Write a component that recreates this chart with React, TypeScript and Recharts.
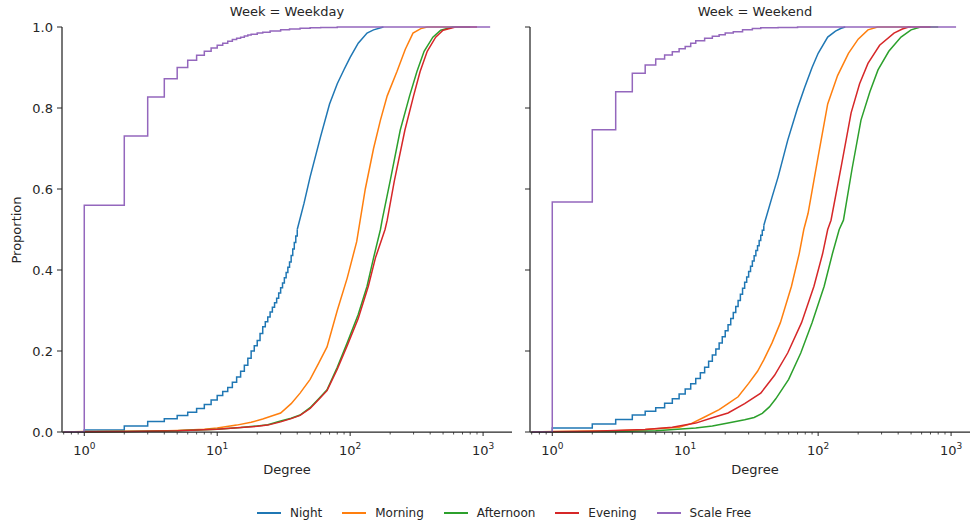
import { LineChart, Line, XAxis, YAxis } from "recharts";

type Pt = [number, number];

// ECDF readings: [degree, proportion]
// Weekday panel
const wdNightSteps: Pt[] = [
  [0.7, 0], [1, 0.005], [2, 0.015], [3, 0.026], [4, 0.033], [5, 0.041], [6, 0.049],
  [7, 0.058], [8, 0.068], [9, 0.079], [10, 0.09], [11, 0.1], [12, 0.11], [13, 0.123],
  [14, 0.136], [15, 0.15], [16, 0.165], [17, 0.182], [18, 0.2], [19, 0.213], [20, 0.226],
  [21, 0.243], [22, 0.26], [23, 0.272], [24, 0.284], [25, 0.296], [26, 0.308],
  [27, 0.319], [28, 0.33], [29, 0.343], [30, 0.356], [31, 0.368], [32, 0.381],
  [33, 0.394], [34, 0.407], [35, 0.42], [36, 0.436], [37, 0.452], [38, 0.468],
  [39, 0.484], [40, 0.5],
];
const wdNightTail: Pt[] = [
  [40, 0.5], [45, 0.565], [50, 0.63], [60, 0.73], [70, 0.81],
  [80, 0.86], [90, 0.895], [100, 0.925], [115, 0.96], [134, 0.985], [150, 0.993], [178, 1],
];
const wdMorning: Pt[] = [
  [0.7, 0], [1, 0.001], [3, 0.002], [5, 0.004], [8, 0.007], [10, 0.01], [14, 0.017],
  [18, 0.024], [22, 0.032], [26, 0.04], [30, 0.047], [36, 0.07], [42, 0.096], [50, 0.13],
  [58, 0.17], [67, 0.21], [80, 0.3], [95, 0.38], [112, 0.47], [119, 0.523], [130, 0.6],
  [150, 0.7], [169, 0.77], [190, 0.83], [225, 0.89], [260, 0.945], [297, 0.985],
  [340, 0.996], [380, 1], [600, 1],
];
const wdAfternoon: Pt[] = [
  [0.7, 0], [2, 0.001], [5, 0.003], [10, 0.007], [15, 0.011], [20, 0.015], [24, 0.018],
  [30, 0.027], [36, 0.034], [42, 0.042], [50, 0.06], [58, 0.082], [67, 0.104], [80, 0.16],
  [95, 0.22], [115, 0.29], [134, 0.36], [150, 0.43], [169, 0.5], [174, 0.523], [200, 0.62],
  [238, 0.745], [280, 0.83], [318, 0.89], [360, 0.94], [419, 0.975], [480, 0.992],
  [592, 1], [800, 1],
];
const wdEvening: Pt[] = [
  [0.7, 0], [2, 0.001], [5, 0.003], [10, 0.007], [15, 0.011], [20, 0.014], [24, 0.017],
  [30, 0.025], [36, 0.033], [42, 0.041], [50, 0.058], [58, 0.08], [67, 0.102], [80, 0.155],
  [95, 0.213], [115, 0.28], [137, 0.36], [155, 0.43], [183, 0.5], [190, 0.523], [215, 0.62],
  [258, 0.745], [300, 0.83], [336, 0.89], [380, 0.94], [440, 0.975], [500, 0.992],
  [620, 1], [900, 1],
];
const wdScaleFree: Pt[] = [
  [0.7, 0], [1, 0.56], [2, 0.731], [3, 0.827], [4, 0.872], [5, 0.9], [6, 0.918], [7, 0.93],
  [8, 0.94], [9, 0.948], [10, 0.955], [11, 0.96], [12, 0.965], [13, 0.969], [14, 0.972],
  [15, 0.975], [16, 0.978], [17, 0.98], [18, 0.982], [20, 0.985], [22, 0.987], [25, 0.99],
  [30, 0.993], [35, 0.995], [42, 0.997], [50, 0.998], [60, 0.999], [80, 1], [1130, 1],
];

// Weekend panel
const weNightSteps: Pt[] = [
  [0.7, 0], [1, 0.01], [2, 0.02], [3, 0.031], [4, 0.042], [5, 0.051], [6, 0.06],
  [7, 0.071], [8, 0.082], [9, 0.094], [10, 0.106], [11, 0.119], [12, 0.132], [13, 0.146],
  [14, 0.16], [15, 0.175], [16, 0.19], [17, 0.205], [18, 0.22], [19, 0.235], [20, 0.25],
  [21, 0.265], [22, 0.28], [23, 0.295], [24, 0.31], [25, 0.325], [26, 0.34], [27, 0.355],
  [28, 0.37], [29, 0.383], [30, 0.396], [31, 0.409], [32, 0.422], [33, 0.435],
  [34, 0.448], [35, 0.46], [36, 0.473], [37, 0.486], [38, 0.498], [39, 0.51],
];
const weNightTail: Pt[] = [
  [39, 0.51], [45, 0.58], [50, 0.63], [59, 0.72], [70, 0.8],
  [79, 0.85], [90, 0.9], [100, 0.935], [118, 0.975], [135, 0.99], [149, 0.997], [160, 1],
];
const weMorning: Pt[] = [
  [0.7, 0], [1, 0.001], [3, 0.003], [5, 0.006], [9, 0.012], [11, 0.02], [14, 0.037],
  [18, 0.055], [21, 0.07], [25, 0.087], [30, 0.12], [35, 0.15], [39, 0.178], [45, 0.22],
  [52, 0.27], [63, 0.36], [72, 0.44], [78, 0.5], [84, 0.54], [100, 0.68], [118, 0.81],
  [140, 0.88], [169, 0.935], [200, 0.97], [237, 0.993], [280, 1], [500, 1],
];
const weAfternoon: Pt[] = [
  [0.7, 0], [3, 0.001], [6, 0.003], [12, 0.01], [16, 0.015], [21, 0.022], [28, 0.03],
  [33, 0.036], [38, 0.046], [43, 0.062], [48, 0.082], [60, 0.13], [74, 0.195], [90, 0.27],
  [111, 0.36], [128, 0.44], [144, 0.5], [155, 0.523], [180, 0.65], [210, 0.77], [245, 0.84],
  [282, 0.894], [340, 0.94], [420, 0.975], [500, 0.993], [590, 1], [800, 1],
];
const weEvening: Pt[] = [
  [0.7, 0], [2, 0.002], [5, 0.006], [8, 0.012], [12, 0.022], [16, 0.035], [21, 0.047],
  [28, 0.07], [37, 0.096], [47, 0.14], [59, 0.195], [75, 0.27], [93, 0.36], [108, 0.44],
  [118, 0.5], [125, 0.523], [150, 0.66], [177, 0.788], [205, 0.86], [237, 0.91],
  [290, 0.955], [372, 0.985], [430, 0.995], [480, 1], [700, 1],
];
const weScaleFree: Pt[] = [
  [0.7, 0], [1, 0.568], [2, 0.746], [3, 0.84], [4, 0.886], [5, 0.906], [6, 0.921],
  [7, 0.931], [8, 0.939], [9, 0.946], [10, 0.952], [11, 0.96], [12, 0.966], [14, 0.972],
  [16, 0.977], [18, 0.981], [20, 0.985], [23, 0.988], [27, 0.993], [32, 0.996],
  [37, 0.998], [50, 0.999], [70, 1], [1090, 1],
];

const SERIES = ["Night", "Morning", "Afternoon", "Evening", "Scale Free"];
const COLORS: Record<string, string> = {
  Night: "#1f77b4",
  Morning: "#ff7f0e",
  Afternoon: "#2ca02c",
  Evening: "#d62728",
  "Scale Free": "#9467bd",
};

const X_TICKS = [
  0.7, 0.8, 0.9, 1, 2, 3, 4, 5, 6, 7, 8, 9, 10, 20, 30, 40, 50, 60, 70, 80, 90,
  100, 200, 300, 400, 500, 600, 700, 800, 900, 1000,
];
const DECADES = [1, 10, 100, 1000];
const Y_TICKS = [0, 0.2, 0.4, 0.6, 0.8, 1];

const FONT = "DejaVu Sans, sans-serif";
const INK = "#262626";

const toRows = (pts: Pt[]) => pts.map(([x, y]) => ({ x, y }));

function XTick({ x, y, payload }: any) {
  const v = payload.value;
  const major = DECADES.includes(v);
  return (
    <g>
      <line x1={x} x2={x} y1={y} y2={y + (major ? 4 : 2.5)} stroke={INK} strokeWidth={major ? 1 : 0.8} />
      {major && (
        <text x={x} y={y + 23} textAnchor="middle" fontSize={13} fontFamily={FONT} fill={INK}>
          10
          <tspan dy={-6} fontSize={9}>
            {Math.round(Math.log10(v))}
          </tspan>
        </text>
      )}
    </g>
  );
}

function YTick({ x, y, payload, showLabel }: any) {
  return (
    <g>
      <line x1={x - 5} x2={x} y1={y} y2={y} stroke={INK} strokeWidth={1} />
      {showLabel && (
        <text x={x - 9} y={y + 4.5} textAnchor="end" fontSize={13} fontFamily={FONT} fill={INK}>
          {payload.value.toFixed(1)}
        </text>
      )}
    </g>
  );
}

interface PanelProps {
  night: [Pt[], Pt[]];
  lines: Pt[][];
  scaleFree: Pt[];
  showYLabels: boolean;
  left: number;
  width: number;
  marginLeft: number;
  marginRight: number;
}

function Panel({ night, lines, scaleFree, showYLabels, left, width, marginLeft, marginRight }: PanelProps) {
  return (
    <div style={{ position: "absolute", left, top: 0 }}>
      <LineChart
        width={width}
        height={526}
        margin={{ top: 27, right: marginRight, bottom: 64, left: marginLeft }}
      >
        <XAxis
          type="number"
          dataKey="x"
          scale="log"
          domain={[0.68, 1650]}
          allowDataOverflow
          ticks={X_TICKS}
          interval={0}
          tick={<XTick />}
          tickLine={false}
          tickSize={0}
          tickMargin={0}
          height={30}
          axisLine={{ stroke: INK, strokeWidth: 1.25 }}
        />
        <YAxis
          type="number"
          domain={[0, 1]}
          ticks={Y_TICKS}
          interval={0}
          tick={<YTick showLabel={showYLabels} />}
          tickLine={false}
          tickSize={0}
          tickMargin={0}
          width={40}
          axisLine={{ stroke: INK, strokeWidth: 1.25 }}
        />
        <Line
          data={toRows(night[0])}
          dataKey="y"
          type="stepAfter"
          stroke={COLORS.Night}
          strokeWidth={1.5}
          dot={false}
          isAnimationActive={false}
        />
        <Line
          data={toRows(night[1])}
          dataKey="y"
          type="linear"
          stroke={COLORS.Night}
          strokeWidth={1.5}
          dot={false}
          isAnimationActive={false}
        />
        {lines.map((pts, i) => (
          <Line
            key={SERIES[i + 1]}
            data={toRows(pts)}
            dataKey="y"
            type="linear"
            stroke={COLORS[SERIES[i + 1]]}
            strokeWidth={1.5}
            dot={false}
            isAnimationActive={false}
          />
        ))}
        <Line
          data={toRows(scaleFree)}
          dataKey="y"
          type="stepAfter"
          stroke={COLORS["Scale Free"]}
          strokeWidth={1.5}
          dot={false}
          isAnimationActive={false}
        />
      </LineChart>
    </div>
  );
}

const textStyle = { position: "absolute" as const, fontSize: 13, color: INK, whiteSpace: "nowrap" as const };

export default function App() {
  return (
    <div
      style={{
        position: "absolute",
        left: 0,
        top: 0,
        width: 970,
        height: 526,
        overflow: "hidden",
        background: "#fff",
        fontFamily: FONT,
      }}
    >
      <Panel
        night={[wdNightSteps, wdNightTail]}
        lines={[wdMorning, wdAfternoon, wdEvening]}
        scaleFree={wdScaleFree}
        showYLabels
        left={0}
        width={520}
        marginLeft={22}
        marginRight={8}
      />
      <Panel
        night={[weNightSteps, weNightTail]}
        lines={[weMorning, weAfternoon, weEvening]}
        scaleFree={weScaleFree}
        showYLabels={false}
        left={490}
        width={490}
        marginLeft={0}
        marginRight={0}
      />

      {/* panel titles */}
      <div style={{ ...textStyle, left: 62, width: 450, top: 4, textAlign: "center" }}>Week = Weekday</div>
      <div style={{ ...textStyle, left: 530, width: 450, top: 4, textAlign: "center" }}>Week = Weekend</div>

      {/* axis labels */}
      <div style={{ ...textStyle, left: 62, width: 450, top: 462, textAlign: "center" }}>Degree</div>
      <div style={{ ...textStyle, left: 530, width: 450, top: 462, textAlign: "center" }}>Degree</div>
      <div
        style={{
          ...textStyle,
          left: 16,
          top: 230,
          transform: "translate(-50%, -50%) rotate(-90deg)",
        }}
      >
        Proportion
      </div>

      {/* legend */}
      <div
        style={{
          position: "absolute",
          left: 257,
          top: 506,
          display: "flex",
          alignItems: "center",
          gap: 20,
          fontSize: 12,
          color: INK,
        }}
      >
        {SERIES.map((s) => (
          <div key={s} style={{ display: "flex", alignItems: "center", gap: 9 }}>
            <div style={{ width: 24, height: 2, background: COLORS[s] }} />
            <span>{s}</span>
          </div>
        ))}
      </div>
    </div>
  );
}
